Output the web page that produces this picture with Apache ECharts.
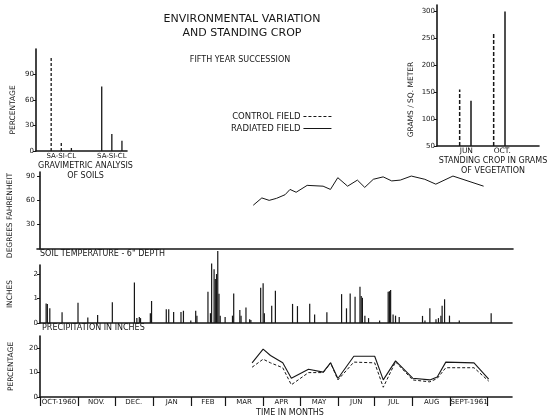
<!DOCTYPE html>
<html><head><meta charset="utf-8">
<script src="https://cdn.jsdelivr.net/npm/echarts@6/dist/echarts.min.js"></script>
<style>html,body{margin:0;padding:0;background:#fff}#c{width:555px;height:419px}</style>
</head><body><div id="c"></div>
<script>
// ---------------- data ----------------
var gravCategories = ['SA', 'SI', 'CL'];
var gravControl = [111, 11, 6];
var gravRadiated = [76, 20, 12];
var gravTicks = [0, 30, 60, 90];

var cropMonths = ['JUN', 'OCT.'];
var cropControl = [155, 259];
var cropRadiated = [134, 300];
var cropTicks = [50, 100, 150, 200, 250, 300];

// days counted from 1 Oct 1960
var tempDays = [174, 181, 187, 193, 200, 204, 209, 218, 231, 237, 243, 251, 259, 265, 272, 280, 287, 294, 303, 314, 323, 337, 362];
var tempValues = [54, 63, 60, 62.5, 67, 73.5, 70, 78.5, 77.5, 73.5, 88, 77.5, 85, 76, 86, 89, 84, 85, 90, 86, 80, 90, 77.5];
var tempTicks = [30, 60, 90];

var precipDays = [5, 6, 8, 18, 31, 39, 47, 59, 77, 79, 81, 82, 90, 91, 103, 105, 109, 115, 117, 123, 127, 128, 137, 139, 140, 142, 143, 144, 145, 146, 147, 151, 157, 158, 163, 164, 168, 171, 172, 180, 182, 183, 189, 192, 206, 210, 220, 224, 234, 246, 250, 253, 257, 261, 262, 263, 265, 268, 277, 284, 285, 286, 288, 290, 293, 312, 314, 318, 323, 325, 327, 328, 330, 334, 342, 368];
var precipValues = [0.8, 0.78, 0.6, 0.44, 0.83, 0.22, 0.33, 0.85, 1.66, 0.2, 0.25, 0.2, 0.4, 0.9, 0.56, 0.56, 0.45, 0.45, 0.5, 0.1, 0.5, 0.3, 1.28, 0.4, 2.43, 2.2, 1.8, 2.0, 2.94, 1.2, 0.3, 0.25, 0.3, 1.21, 0.53, 0.3, 0.63, 0.15, 0.12, 1.44, 1.62, 0.4, 0.7, 1.32, 0.78, 0.69, 0.79, 0.35, 0.44, 1.18, 0.6, 1.21, 1.07, 1.48, 1.1, 1.03, 0.3, 0.2, 0.1, 1.28, 1.3, 1.35, 0.35, 0.3, 0.25, 0.29, 0.1, 0.6, 0.15, 0.2, 0.3, 0.7, 0.97, 0.3, 0.1, 0.4];
var precipTicks = [0, 1, 2];

var moistDays = [173, 182, 188, 198, 205, 219, 231, 237, 243, 256, 273, 280, 290, 304, 318, 324, 331, 354, 366];
var moistRadiated = [14, 19.6, 17, 14, 7.7, 11.4, 10.2, 14, 7.6, 16.7, 16.7, 7, 14.8, 7.7, 7, 8.2, 14.3, 14, 7.3];
var moistControl = [12.2, 15.5, 14, 12, 5, 10, 10, 14, 7, 14.3, 14, 4, 14.4, 7, 6.2, 7.6, 12, 12, 6.5];
var moistTicks = [0, 10, 20];

var monthLabels = ['OCT-1960', 'NOV.', 'DEC.', 'JAN', 'FEB', 'MAR', 'APR', 'MAY', 'JUN', 'JUL', 'AUG', 'SEPT-1961'];
var monthStarts = [0, 31, 61, 92, 123, 151, 182, 212, 243, 273, 304, 335, 365];

// ---------------- build ----------------
var INK = '#161616';
var FONT = 'DejaVu Sans';
var monthMids = monthLabels.map(function (m, i) { return (monthStarts[i] + monthStarts[i + 1]) / 2; });

// gravimetric axis: 3 slots control, 2 gap, 3 slots radiated
var gravAxis = [''].concat(gravCategories, ['', ''], gravCategories);
var gravCtlData = gravControl.map(function (v, i) { return [1 + i, v]; });
var gravRadData = gravRadiated.map(function (v, i) { return [6 + i, v]; });

var cropAxis = ['', '', cropMonths[0], '', '', cropMonths[1], '', '', '', ''];
var cropCtlData = cropControl.map(function (v, i) { return [2 + 3 * i, v]; });
var cropRadData = cropRadiated.map(function (v, i) { return [3 + 3 * i, v]; });

function zip(a, b) { return a.map(function (d, i) { return [d, b[i]]; }); }

function stem(base, dash, width) {
  return function (params, api) {
    var x = api.value(0), v = api.value(1);
    var p0 = api.coord([x, base]);
    var p1 = api.coord([x, v]);
    return {
      type: 'line',
      shape: { x1: p0[0], y1: p0[1], x2: p1[0], y2: p1[1] },
      style: { stroke: INK, lineWidth: width, lineDash: dash || null }
    };
  };
}

function yAx(grid, min, max, ticks, name, gap, pad) {
  return {
    type: 'value', gridIndex: grid, min: min, max: max,
    axisLine: { show: true, lineStyle: { color: INK, width: 1.6 } },
    axisTick: { show: true, length: 3, customValues: ticks, lineStyle: { color: INK, width: 1 } },
    axisLabel: { customValues: ticks, fontSize: 7, color: INK, margin: 2, fontFamily: FONT },
    splitLine: { show: false },
    name: name, nameLocation: 'middle', nameRotate: 90, nameGap: gap,
    nameTextStyle: { fontSize: 7.5, color: INK, fontFamily: FONT, padding: pad || 0 }
  };
}

var titleStyle = { fontSize: 8, color: INK, fontWeight: 'normal', fontFamily: FONT };

var option = {
  backgroundColor: '#ffffff',
  animation: false,
  textStyle: { fontFamily: FONT, color: INK },
  title: [
    { text: 'ENVIRONMENTAL VARIATION\nAND STANDING CROP', left: 242, top: 12, textAlign: 'center', padding: 0,
      textStyle: { fontSize: 11, lineHeight: 14, color: INK, fontWeight: 'normal', fontFamily: FONT } },
    { text: 'FIFTH YEAR SUCCESSION', left: 240, top: 56, textAlign: 'center', padding: 0, textStyle: titleStyle },
    { text: 'SOIL TEMPERATURE - 6" DEPTH', left: 40, top: 250, textAlign: 'left', padding: 0, textStyle: titleStyle },
    { text: 'PRECIPITATION IN INCHES', left: 42, top: 324, textAlign: 'left', padding: 0, textStyle: titleStyle }
  ],
  legend: {
    data: ['CONTROL FIELD', 'RADIATED FIELD'],
    orient: 'vertical', left: 231, top: 112, align: 'right',
    itemWidth: 28, itemHeight: 6, itemGap: 3, padding: 0, selectedMode: false,
    itemStyle: { color: 'rgba(0,0,0,0)', borderWidth: 0, opacity: 0 },
    lineStyle: { width: 1 },
    textStyle: { fontSize: 8.5, color: INK, fontFamily: FONT, padding: [0, -2, 0, 0] }
  },
  grid: [
    { left: 36, top: 49, width: 91, height: 102, outerBoundsMode: 'none' },
    { left: 437, top: 5, width: 102, height: 141, outerBoundsMode: 'none' },
    { left: 37, top: 172, width: 476, height: 77, outerBoundsMode: 'none' },
    { left: 40, top: 265, width: 472, height: 58, outerBoundsMode: 'none' },
    { left: 40, top: 336, width: 472, height: 61, outerBoundsMode: 'none' }
  ],
  xAxis: [
    { type: 'category', gridIndex: 0, data: gravAxis, boundaryGap: true,
      axisLine: { lineStyle: { color: INK, width: 1.6 } }, axisTick: { show: false },
      axisLabel: { interval: 0, fontSize: 7, color: INK, margin: 2, fontFamily: FONT,
        formatter: function (v, i) { return (i === 2 || i === 7) ? gravCategories.join('-') : ''; } },
      name: 'GRAVIMETRIC ANALYSIS\nOF SOILS', nameLocation: 'middle', nameGap: 7,
      nameTextStyle: { fontSize: 8, lineHeight: 10, color: INK, fontFamily: FONT, padding: [0, 0, 0, 8] } },
    { type: 'category', gridIndex: 1, data: cropAxis, boundaryGap: false,
      axisLine: { lineStyle: { color: INK, width: 1.6 } }, axisTick: { show: false },
      axisLabel: { interval: 0, fontSize: 7.5, color: INK, margin: 1, align: 'left', fontFamily: FONT },
      name: 'STANDING CROP IN GRAMS\nOF VEGETATION', nameLocation: 'middle', nameGap: 9,
      nameTextStyle: { fontSize: 8, lineHeight: 10, color: INK, fontFamily: FONT, padding: [0, 0, 0, 10] } },
    { type: 'value', gridIndex: 2, min: -2.5, max: 386,
      axisLine: { lineStyle: { color: INK, width: 1.6 } }, axisTick: { show: false }, axisLabel: { show: false }, splitLine: { show: false } },
    { type: 'value', gridIndex: 3, min: 0, max: 385,
      axisLine: { lineStyle: { color: INK, width: 1.6 } }, axisTick: { show: false }, axisLabel: { show: false }, splitLine: { show: false } },
    { type: 'value', gridIndex: 4, min: 0, max: 385,
      axisLine: { lineStyle: { color: INK, width: 1.6 } },
      axisTick: { show: true, length: 9, customValues: monthStarts, lineStyle: { color: INK, width: 1.2 } },
      axisLabel: { customValues: monthMids, fontSize: 7, color: INK, margin: 2, fontFamily: FONT,
        formatter: function (v) { var i = monthMids.indexOf(v); return i >= 0 ? monthLabels[i] : ''; } },
      splitLine: { show: false },
      name: 'TIME IN MONTHS', nameLocation: 'middle', nameGap: 12,
      nameTextStyle: { fontSize: 8, color: INK, fontFamily: FONT, padding: [0, 0, 0, 28] } }
  ],
  yAxis: [
    yAx(0, 0, 120, gravTicks, 'PERCENTAGE', 19, [0, 20, 0, 0]),
    yAx(1, 50, 312, cropTicks, 'GRAMS / SQ. METER', 22, [0, 48, 0, 0]),
    yAx(2, 0, 95, tempTicks, 'DEGREES FAHRENHEIT', 23, [0, 10, 0, 0]),
    yAx(3, 0, 2.37, precipTicks, 'INCHES', 26),
    yAx(4, 0, 25, moistTicks, 'PERCENTAGE', 25)
  ],
  series: [
    { name: 'Gravimetric control', type: 'custom', xAxisIndex: 0, yAxisIndex: 0, encode: { x: 0, y: 1 },
      data: gravCtlData, renderItem: stem(0, [3, 2], 1.3) },
    { name: 'Gravimetric radiated', type: 'custom', xAxisIndex: 0, yAxisIndex: 0, encode: { x: 0, y: 1 },
      data: gravRadData, renderItem: stem(0, null, 1.3) },
    { name: 'Crop control', type: 'custom', xAxisIndex: 1, yAxisIndex: 1, encode: { x: 0, y: 1 },
      data: cropCtlData, renderItem: stem(50, [4, 2], 1.5) },
    { name: 'Crop radiated', type: 'custom', xAxisIndex: 1, yAxisIndex: 1, encode: { x: 0, y: 1 },
      data: cropRadData, renderItem: stem(50, null, 1.5) },
    { name: 'Soil temperature', type: 'line', xAxisIndex: 2, yAxisIndex: 2, data: zip(tempDays, tempValues),
      symbol: 'none', lineStyle: { color: INK, width: 1 } },
    { name: 'Precipitation', type: 'custom', xAxisIndex: 3, yAxisIndex: 3, encode: { x: 0, y: 1 },
      data: zip(precipDays, precipValues), renderItem: stem(0, null, 1.2) },
    { name: 'CONTROL FIELD', type: 'line', xAxisIndex: 4, yAxisIndex: 4, data: zip(moistDays, moistControl),
      symbol: 'none', itemStyle: { color: INK }, lineStyle: { color: INK, width: 1, type: [3, 2] } },
    { name: 'RADIATED FIELD', type: 'line', xAxisIndex: 4, yAxisIndex: 4, data: zip(moistDays, moistRadiated),
      symbol: 'none', itemStyle: { color: INK }, lineStyle: { color: INK, width: 1.1 } }
  ]
};

var chart = echarts.init(document.getElementById('c'), null, { renderer: 'canvas' });
chart.setOption(option);
</script>
</body></html>
